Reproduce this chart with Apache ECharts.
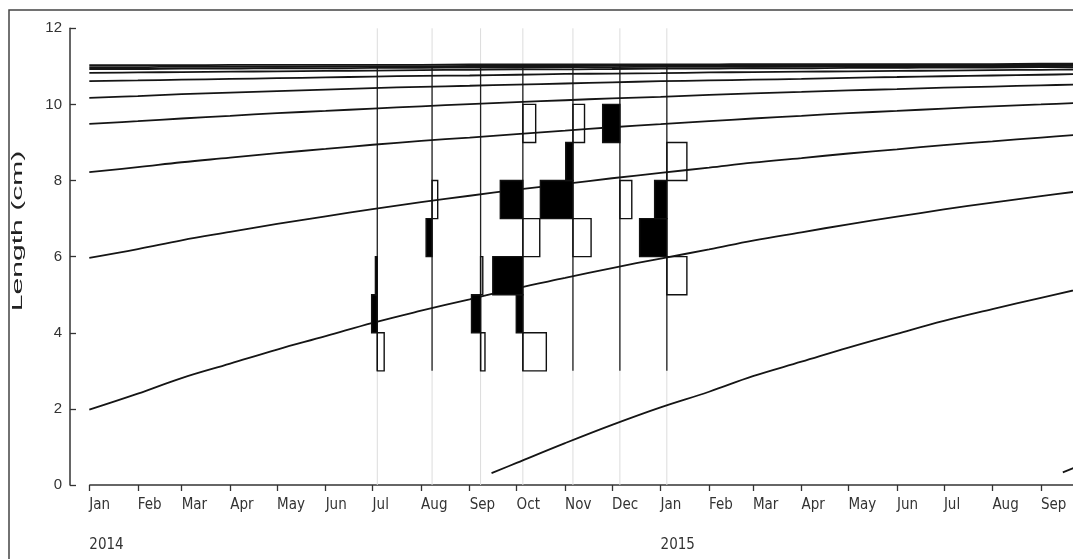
<!DOCTYPE html>
<html><head><meta charset="utf-8">
<script src="https://cdn.jsdelivr.net/npm/echarts@6/dist/echarts.min.js"></script>
<style>html,body{margin:0;padding:0;background:#fff}#c{width:1073px;height:559px}</style>
</head><body><div id="c"></div>
<script>
// ---------- data ----------
const monthLabels = ['Jan','Feb','Mar','Apr','May','Jun','Jul','Aug','Sep','Oct','Nov','Dec'];
const xTickDates = ['2014-01-01','2014-02-01','2014-03-01','2014-04-01','2014-05-01','2014-06-01','2014-07-01',
  '2014-08-01','2014-09-01','2014-10-01','2014-11-01','2014-12-01','2015-01-01','2015-02-01','2015-03-01',
  '2015-04-01','2015-05-01','2015-06-01','2015-07-01','2015-08-01','2015-09-01'];
const yAxisName = 'Length (cm)';

// growth curves (length in cm at the first of each month)
const curveDates = ['2014-01-01','2014-02-01','2014-03-01','2014-04-01','2014-05-01','2014-06-01','2014-07-01',
  '2014-08-01','2014-09-01','2014-10-01','2014-11-01','2014-12-01','2015-01-01','2015-02-01','2015-03-01',
  '2015-04-01','2015-05-01','2015-06-01','2015-07-01','2015-08-01','2015-09-01','2015-10-01'];
const cohort2013 = [1.98,2.40,2.81,3.19,3.56,3.91,4.26,4.58,4.88,5.17,5.44,5.70,5.95,6.19,6.42,6.64,6.85,7.05,7.24,7.42,7.59,7.75];
const cohort2012 = [5.97,6.20,6.43,6.65,6.86,7.06,7.25,7.43,7.60,7.76,7.91,8.06,8.20,8.34,8.47,8.59,8.71,8.82,8.93,9.03,9.13,9.22];
const cohort2011 = [8.22,8.35,8.48,8.60,8.72,8.83,8.94,9.04,9.13,9.22,9.31,9.40,9.48,9.56,9.63,9.70,9.77,9.83,9.89,9.95,10.00,10.05];
const cohort2010 = [9.49,9.56,9.63,9.70,9.77,9.83,9.89,9.95,10.01,10.06,10.11,10.16,10.20,10.25,10.29,10.33,10.37,10.40,10.44,10.47,10.50,10.53];
const cohort2009 = [10.17,10.22,10.27,10.31,10.35,10.39,10.43,10.46,10.49,10.52,10.55,10.58,10.61,10.63,10.65,10.67,10.70,10.72,10.74,10.76,10.78,10.80];
const cohort2008 = [10.61,10.63,10.65,10.67,10.69,10.71,10.73,10.75,10.76,10.78,10.80,10.81,10.82,10.84,10.85,10.86,10.87,10.88,10.89,10.90,10.91,10.92];
const cohort2007 = [10.83,10.84,10.85,10.86,10.87,10.88,10.89,10.90,10.91,10.92,10.92,10.93,10.94,10.94,10.95,10.95,10.96,10.96,10.97,10.97,10.98,10.98];
const cohort2006 = [10.93,10.93,10.94,10.94,10.95,10.95,10.96,10.96,10.97,10.97,10.98,10.98,10.99,10.99,10.99,11.00,11.00,11.00,11.01,11.01,11.01,11.02];
const cohort2005 = [10.98,10.98,10.99,10.99,10.99,11.00,11.00,11.00,11.01,11.01,11.01,11.02,11.02,11.02,11.02,11.03,11.03,11.03,11.03,11.04,11.04,11.04];
const cohort2004 = [11.03,11.03,11.03,11.04,11.04,11.04,11.04,11.04,11.05,11.05,11.05,11.05,11.05,11.05,11.06,11.06,11.06,11.06,11.06,11.06,11.07,11.07];
const cohort2014Dates = ['2014-09-15','2014-10-01','2014-11-01','2014-12-01','2015-01-01','2015-02-01','2015-03-01',
  '2015-04-01','2015-05-01','2015-06-01','2015-07-01','2015-08-01','2015-09-01','2015-10-01'];
const cohort2014 = [0.31,0.58,1.10,1.58,2.04,2.45,2.86,3.24,3.61,3.97,4.31,4.62,4.92,5.20];
const cohort2015Dates = ['2015-09-15','2015-10-01'];
const cohort2015 = [0.33,0.60];

// restructured length-frequency samples
const sampleDates = ['2014-07-04','2014-08-08','2014-09-08','2014-10-05','2014-11-06','2014-12-06','2015-01-05'];
const classLows = [3,4,5,6,7,8,9,10];
// scores per length class (3-4 ... 10-11); positive = black peak, negative = white trough
const scoreJul = [-0.22, 0.18, 0.06, 0, 0, 0, 0, 0];
const scoreAug = [0, 0, 0, 0.19, -0.18, 0, 0, 0];
const scoreSep = [-0.14, 0.29, -0.07, 0, 0, 0, 0, 0];
const scoreOct = [-0.75, 0.21, 0.96, -0.54, 0.72, 0, -0.41, 0];
const scoreNov = [0, 0, 0, -0.58, 1.04, 0.23, -0.37, 0];
const scoreDec = [0, 0, 0, 0, -0.38, 0, 0.55, 0];
const scoreJan = [0, 0, -0.64, 0.87, 0.39, -0.64, 0, 0];

// ---------- build ----------
function ts(s){ const p = s.split('-').map(Number); return new Date(p[0], p[1]-1, p[2]).getTime(); }
const DAY = 86400000;
const daysPerScore = 20;
const xTickTimes = xTickDates.map(ts);
const sampleTimes = sampleDates.map(ts);
const scores = [scoreJul, scoreAug, scoreSep, scoreOct, scoreNov, scoreDec, scoreJan];

const cohorts = [cohort2013, cohort2012, cohort2011, cohort2010, cohort2009, cohort2008, cohort2007, cohort2006, cohort2005, cohort2004];
const lineStyle = {color:'#151515', width:1.8};
const lineSeries = cohorts.map(vals => ({
  type:'line', data: curveDates.map((d,i)=>[ts(d), vals[i]]),
  showSymbol:false, smooth:0.4, clip:true, z:2, lineStyle:lineStyle
}));
lineSeries.push({type:'line', data: cohort2014Dates.map((d,i)=>[ts(d), cohort2014[i]]), showSymbol:false, smooth:0.4, clip:true, z:2, lineStyle:lineStyle});
lineSeries.push({type:'line', data: cohort2015Dates.map((d,i)=>[ts(d), cohort2015[i]]), showSymbol:false, clip:true, z:2, lineStyle:lineStyle});

const barData = [];
scores.forEach((arr, s) => arr.forEach((v, c) => { if (v !== 0) barData.push([sampleTimes[s], classLows[c], v]); }));

const narrow = "'Liberation Sans Narrow','DejaVu Sans Condensed','Arial Narrow',sans-serif";

const chart = echarts.init(document.getElementById('c'), null, {renderer:'canvas'});
chart.setOption({
  animation:false,
  backgroundColor:'#fff',
  grid:{left:70, right:0, top:28.3, bottom:74},
  xAxis:{
    type:'value',
    min: new Date(2013,11,19,16).getTime(),
    max: new Date(2015,8,21,12).getTime(),
    axisLine:{show:false},
    axisTick:{show:true, customValues:xTickTimes, length:6, lineStyle:{color:'#333', width:1.3}},
    axisLabel:{
      customValues:xTickTimes, align:'left', margin:10,
      fontFamily:narrow, fontSize:15, lineHeight:20, color:'#333',
      formatter:function(v){ const d = new Date(v); const m = monthLabels[d.getMonth()]; return d.getMonth()===0 ? m + '\n\n' + d.getFullYear() : m; }
    },
    splitLine:{show:false}
  },
  yAxis:{
    type:'value', min:0, max:12, interval:2,
    axisLine:{show:true, lineStyle:{color:'#333', width:1.5}},
    axisTick:{show:true, inside:true, length:6, lineStyle:{color:'#333', width:1.3}},
    axisLabel:{margin:8, fontFamily:"'Liberation Sans',Arial,sans-serif", fontSize:15, color:'#333'},
    splitLine:{show:false}
  },
  graphic:[
    {type:'rect', shape:{x:9, y:10, width:1100, height:600}, style:{fill:'none', stroke:'#444', lineWidth:1.5}, silent:true},
    {type:'text', x:18.5, y:231, rotation:Math.PI/2, scaleX:2.15, scaleY:1,
      style:{text:yAxisName, font:"14px 'Liberation Sans',Arial,sans-serif", fill:'#222', textAlign:'center', textVerticalAlign:'middle'}}
  ],
  series:[
    {
      // x-axis baseline starting at the first month tick (detached from the y axis)
      type:'custom', z:1, data:[[xTickTimes[0], 0]], encode:{x:0,y:1}, clip:false,
      renderItem:function(params, api){
        const a = api.coord([api.value(0), 0]);
        const cs = params.coordSys;
        return {type:'line', shape:{x1:a[0], y1:a[1], x2:cs.x+cs.width+5, y2:a[1]}, style:{stroke:'#333', lineWidth:1.5}};
      }
    },
    {
      type:'custom', z:1, data: sampleTimes.map(t=>[t,0]), encode:{x:0,y:1},
      renderItem:function(params, api){
        const t = api.value(0);
        const a = api.coord([t,0]), b = api.coord([t,12]), c = api.coord([t,3]), d = api.coord([t,11]);
        return {type:'group', children:[
          {type:'line', shape:{x1:a[0],y1:a[1],x2:b[0],y2:b[1]}, style:{stroke:'#dcdcdc', lineWidth:1}},
          {type:'line', shape:{x1:c[0],y1:c[1],x2:d[0],y2:d[1]}, style:{stroke:'#222', lineWidth:1.3}}
        ]};
      }
    },
    ...lineSeries,
    {
      type:'custom', z:3, data: barData, encode:{x:0,y:1},
      renderItem:function(params, api){
        const t = api.value(0), lo = api.value(1), v = api.value(2);
        const p0 = api.coord([t, lo]);
        const p1 = api.coord([t - v*daysPerScore*DAY, lo+1]);
        const x = Math.min(p0[0],p1[0]), y = Math.min(p0[1],p1[1]);
        return {type:'rect', shape:{x:x, y:y, width:Math.abs(p1[0]-p0[0]), height:Math.abs(p1[1]-p0[1])},
          style:{fill: v>0 ? '#000' : 'rgba(0,0,0,0)', stroke:'#111', lineWidth:1.4}};
      }
    }
  ]
});
</script></body></html>
